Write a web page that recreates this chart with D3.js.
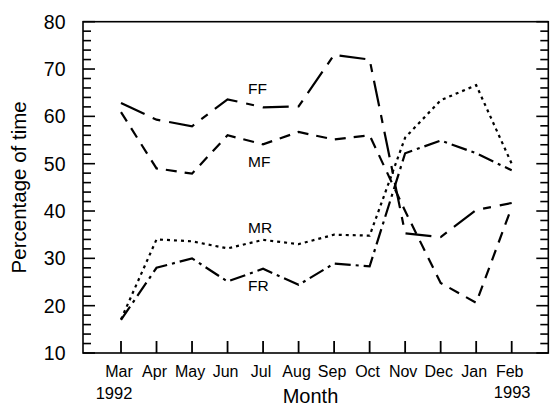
<!DOCTYPE html>
<html>
<head>
<meta charset="utf-8">
<script src="https://cdn.jsdelivr.net/npm/d3@7"></script>
<style>
  html, body { margin: 0; padding: 0; background: #fff; }
  svg { display: block; }
  text { font-family: "Liberation Sans", Arial, Helvetica, sans-serif; fill: #000; }
</style>
</head>
<body>
<svg id="chart" width="551" height="406"></svg>
<script>
// ---- data ----
const months = ["Mar", "Apr", "May", "Jun", "Jul", "Aug", "Sep", "Oct", "Nov", "Dec", "Jan", "Feb"];
const ffValues = [62.8, 59.3, 57.9, 63.6, 61.9, 62.1, 73.0, 72.0, 35.3, 34.5, 40.2, 41.7];
const mfValues = [60.9, 49.0, 47.9, 56.0, 54.1, 56.7, 55.1, 56.0, 40.0, 24.8, 20.6, 40.8];
const mrValues = [17.1, 34.0, 33.6, 32.1, 33.9, 33.0, 35.0, 34.8, 55.5, 63.4, 66.6, 50.0];
const frValues = [17.0, 28.0, 30.0, 25.1, 27.8, 24.4, 28.9, 28.3, 52.2, 54.9, 52.2, 48.6];
const seriesNames = ["FF", "MF", "MR", "FR"];
const yTickLabels = [10, 20, 30, 40, 50, 60, 70, 80];
const yMinorTicks = d3.range(10, 80.01, 2);
const yearLabels = ["1992", "1993"];
const xTitle = "Month";
const yTitle = "Percentage of time";

// ---- layout ----
const svg = d3.select("#chart");
const frame = { left: 83, right: 548.3, top: 21.7, bottom: 353 };
const x = d3.scaleLinear().domain([0, months.length - 1]).range([121, 511.7]);
const y = d3.scaleLinear().domain([10, 80]).range([frame.bottom, frame.top]);

// frame
svg.append("rect")
  .attr("x", frame.left).attr("y", frame.top)
  .attr("width", frame.right - frame.left).attr("height", frame.bottom - frame.top)
  .attr("fill", "none").attr("stroke", "#000").attr("stroke-width", 1.6);

// y ticks (left and right, pointing inward)
yMinorTicks.forEach(v => {
  const major = Math.abs(v % 10) < 1e-6;
  const len = major ? 12 : 8;
  svg.append("line")
    .attr("x1", frame.left).attr("x2", frame.left + len)
    .attr("y1", y(v)).attr("y2", y(v))
    .attr("stroke", "#000").attr("stroke-width", 1.6);
  svg.append("line")
    .attr("x1", frame.right).attr("x2", frame.right - len)
    .attr("y1", y(v)).attr("y2", y(v))
    .attr("stroke", "#000").attr("stroke-width", 1.6);
});

// y tick labels
svg.selectAll(".ylab").data(yTickLabels).enter().append("text")
  .attr("class", "ylab")
  .attr("x", 65.5).attr("y", d => y(d)).attr("dy", "0.36em")
  .attr("text-anchor", "end").attr("font-size", 19.5)
  .text(d => d);

// x ticks (pointing up)
months.forEach((m, i) => {
  svg.append("line")
    .attr("x1", x(i)).attr("x2", x(i))
    .attr("y1", frame.bottom).attr("y2", frame.bottom - 12)
    .attr("stroke", "#000").attr("stroke-width", 1.8);
});
svg.selectAll(".xlab").data(months).enter().append("text")
  .attr("class", "xlab")
  .attr("x", (d, i) => x(i) - 2).attr("y", 376.7)
  .attr("text-anchor", "middle").attr("font-size", 16)
  .text(d => d);

// years
svg.append("text").attr("x", x(0) - 7).attr("y", 399)
  .attr("text-anchor", "middle").attr("font-size", 16.5).text(yearLabels[0]);
svg.append("text").attr("x", x(months.length - 1) + 0.5).attr("y", 398)
  .attr("text-anchor", "middle").attr("font-size", 16.5).text(yearLabels[1]);

// axis titles
svg.append("text").attr("x", 310.5).attr("y", 403)
  .attr("text-anchor", "middle").attr("font-size", 20).text(xTitle);
svg.append("text")
  .attr("transform", "translate(25.5," + ((frame.top + frame.bottom) / 2) + ") rotate(-90)")
  .attr("text-anchor", "middle").attr("font-size", 20.5).text(yTitle);

// series lines
const line = d3.line().x((d, i) => x(i)).y(d => y(d));
const seriesData = [ffValues, mfValues, mrValues, frValues];
const dashes = ["26,9,8,9", "11,8", "3,4", "16,5,3,5"];
seriesData.forEach((vals, k) => {
  svg.append("path")
    .datum(vals)
    .attr("d", line)
    .attr("fill", "none")
    .attr("stroke", "#000")
    .attr("stroke-width", 2.2)
    .attr("stroke-dasharray", dashes[k]);
});

// series labels
const labelPos = [[248, 94], [248, 166.7], [248, 233.3], [248, 290.7]];
seriesNames.forEach((n, k) => {
  svg.append("text")
    .attr("x", labelPos[k][0]).attr("y", labelPos[k][1])
    .attr("font-size", 15.5).text(n);
});
</script>
</body>
</html>
